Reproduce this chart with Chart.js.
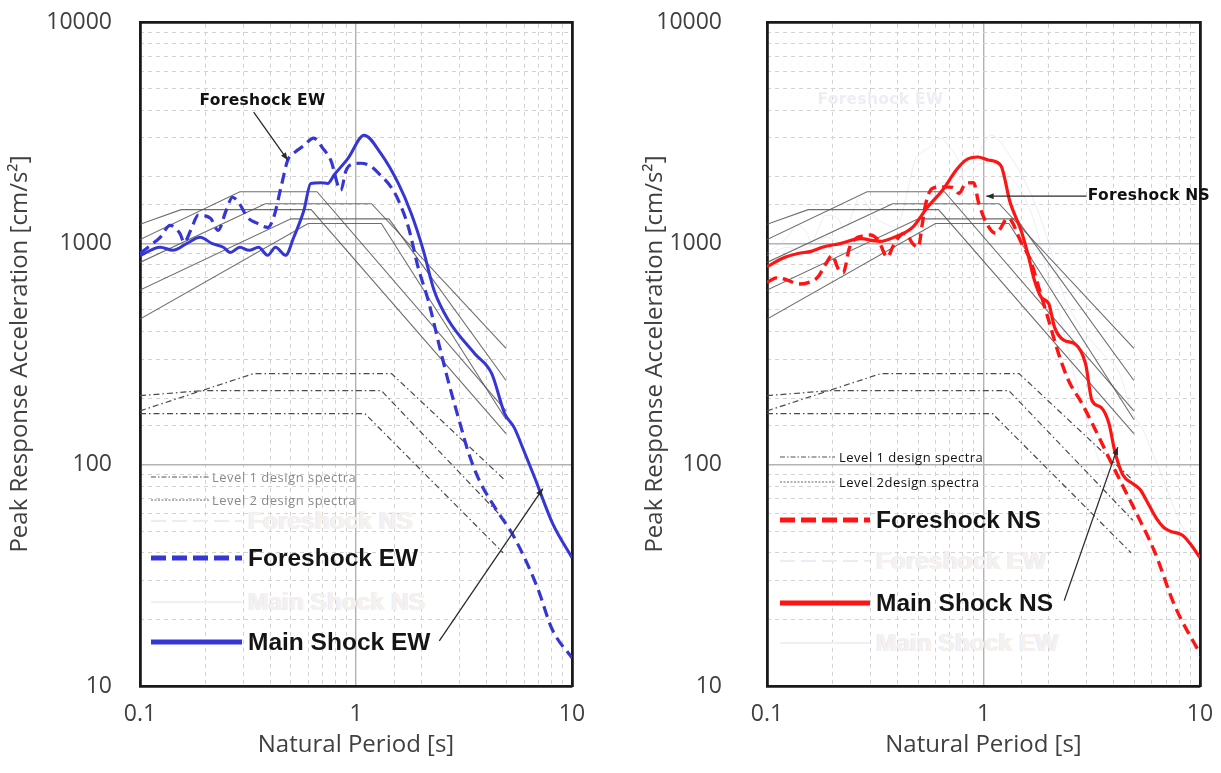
<!DOCTYPE html>
<html lang="en">
<head>
<meta charset="UTF-8">
<title>Response spectra — Foreshock / Main Shock</title>
<script src="https://cdn.jsdelivr.net/npm/chart.js@4.4.0/dist/chart.umd.min.js"></script>
<style>
  * { box-sizing: border-box; margin: 0; padding: 0; }
  body { background: #fff; width: 1221px; height: 773px; overflow: hidden; font-family: 'Open Sans', sans-serif; }
  #wrap { position: relative; width: 1221px; height: 773px; }
  canvas { position: absolute; top: 0; }
  .leg { position: absolute; display: flex; align-items: center; white-space: nowrap; height: 30px; }
  .leg svg { display: block; flex: none; }
  .leg span { display: block; }
  .small { font-size: 13px; letter-spacing: 0.5px; }
  .big { font-family: 'Liberation Sans', Arial, sans-serif; font-weight: bold; font-size: 24.5px; letter-spacing: 0; color: #151515; }
  .ghost { color: #f4f2f0; text-shadow: 1px 0 rgba(250, 205, 160, .3), -1px 0 rgba(160, 190, 250, .3); }
</style>
</head>
<body>
<div id="wrap">
  <canvas id="left" width="610" height="773" style="left:0"></canvas>
  <canvas id="right" width="611" height="773" style="left:610px"></canvas>
</div>
<script>
// axes
const xMin = 0.1, xMax = 10, yMin = 10, yMax = 10000;
const xTickLabels = ['0.1', '1', '10'];
const yTickLabels = ['10', '100', '1000', '10000'];

// left panel: EW components (period [s], acceleration [cm/s2])
const feEwT = [0.1, 0.112, 0.124, 0.138, 0.153, 0.16, 0.172, 0.186, 0.212, 0.23, 0.25, 0.268, 0.29, 0.314, 0.35, 0.39, 0.416, 0.45, 0.483, 0.515, 0.57, 0.637, 0.70, 0.764, 0.85, 0.9, 0.96, 1.05, 1.16, 1.3, 1.45, 1.57, 1.75, 1.94, 2.16, 2.48, 2.7, 3.07, 3.3, 3.7, 4.4, 5.4, 6.9, 8.1, 10];
const feEwA = [900, 980, 1065, 1205, 1110, 1010, 1150, 1340, 1297, 1145, 1400, 1615, 1500, 1312, 1230, 1180, 1312, 1800, 2375, 2555, 2750, 2985, 2700, 2375, 1738, 2138, 2280, 2300, 2240, 2030, 1800, 1567, 1180, 778, 552, 318, 230, 147, 115, 86, 64, 47, 28, 18, 13.4];
const msEwT = [0.1, 0.124, 0.142, 0.165, 0.19, 0.215, 0.243, 0.262, 0.29, 0.32, 0.354, 0.39, 0.424, 0.472, 0.515, 0.574, 0.617, 0.687, 0.74, 0.79, 0.92, 1.09, 1.3, 1.57, 1.8, 2.05, 2.3, 2.68, 3.54, 4.25, 4.88, 5.4, 6.0, 6.7, 8.15, 10];
const msEwA = [880, 960, 930, 1000, 1065, 1000, 960, 910, 960, 930, 960, 883, 960, 883, 1065, 1410, 1865, 1880, 1865, 2030, 2427, 3080, 2555, 1865, 1368, 930, 612, 449, 318, 258, 170, 147, 115, 88, 54, 38];

// right panel: NS components
const feNsT = [0.1, 0.112, 0.125, 0.14, 0.155, 0.172, 0.186, 0.2, 0.213, 0.225, 0.24, 0.26, 0.28, 0.3, 0.327, 0.36, 0.38, 0.41, 0.437, 0.47, 0.5, 0.52, 0.54, 0.58, 0.65, 0.72, 0.77, 0.83, 0.9, 0.95, 1.03, 1.14, 1.3, 1.5, 1.65, 1.8, 2.0, 2.22, 2.47, 2.85, 3.25, 3.95, 4.86, 6.2, 7.65, 10];
const feNsA = [667, 700, 680, 655, 665, 705, 800, 880, 770, 735, 950, 1060, 1080, 1090, 1030, 865, 960, 1080, 1110, 1000, 960, 1200, 1500, 1770, 1800, 1790, 1683, 1870, 1880, 1520, 1240, 1110, 1300, 1000, 838, 632, 449, 318, 240, 189, 147, 99, 66, 40, 23, 14];
const msNsT = [0.1, 0.121, 0.139, 0.16, 0.18, 0.22, 0.27, 0.33, 0.4, 0.47, 0.55, 0.65, 0.75, 0.83, 0.94, 1.05, 1.2, 1.33, 1.49, 1.6, 1.72, 1.85, 2.0, 2.13, 2.36, 2.64, 2.96, 3.17, 3.5, 3.8, 4.04, 4.4, 4.9, 5.3, 5.7, 6.3, 6.8, 7.3, 8.3, 9.0, 10];
const msNsA = [785, 865, 900, 920, 960, 1000, 1050, 1020, 1080, 1180, 1450, 1750, 2150, 2380, 2455, 2380, 2255, 1520, 1145, 902, 680, 570, 535, 417, 364, 352, 286, 195, 181, 153, 115, 90, 82, 77, 68, 57, 52, 50, 48, 44, 38];

// design spectra (corner points)
const lv2T = [[0.1, 0.155, 0.62, 4.95], [0.1, 0.29, 0.66, 4.95], [0.1, 0.38, 1.18, 4.95], [0.1, 0.5, 1.42, 4.95], [0.1, 0.6, 1.31, 4.95]];
const lv2A = [[1220, 1420, 1420, 138], [1040, 1710, 1710, 175], [820, 1510, 1510, 335], [615, 1290, 1290, 240], [455, 1230, 1230, 160]];
const lv1T = [[0.1, 0.195, 1.31, 4.9], [0.1, 0.336, 1.46, 4.9], [0.1, 1.1, 4.8]];
const lv1A = [[205, 216, 216, 56], [175, 258, 258, 85], [170, 170, 40]];

// notes: [period, acceleration] anchors
const notesLeft = {
  labels: [{ text: 'Foreshock EW', at: [0.369, 4400], align: 'center', color: '#111' }],
  arrows: [{ from: [0.336, 3918], to: [0.483, 2377] }, { from: [2.43, 16], to: [7.33, 78] }]
};
const notesRight = {
  labels: [{ text: 'Foreshock NS', at: [3.03, 1633], align: 'left', color: '#111' },
           { text: 'Foreshock EW', at: [0.334, 4430], align: 'center', color: '#ededf3' }],
  arrows: [{ from: [2.99, 1633], to: [1.03, 1633] }, { from: [2.36, 24.3], to: [4.17, 120] }]
};

const blue = '#3636d4', red = '#ff1414';
const majorC = '#b2b2b2', minorC = '#d2d2d2';

const isMajor = v => Math.abs(Math.log10(v) - Math.round(Math.log10(v))) < 1e-9;
const pts = (T, A) => T.map((t, i) => ({ x: t, y: A[i] }));

function curve(T, A, color, dashed, width) {
  return { data: pts(T, A), borderColor: color, borderWidth: width, borderDash: dashed ? [11, 6] : [],
           pointRadius: 0, fill: false, cubicInterpolationMode: 'monotone', xAxisID: 'x', yAxisID: 'y' };
}
function designLines() {
  const out = [];
  lv2T.forEach((T, i) => out.push({ data: pts(T, lv2A[i]), borderColor: 'rgba(85,85,85,0.85)', borderWidth: 1.1,
    pointRadius: 0, tension: 0, xAxisID: 'x', yAxisID: 'y' }));
  lv1T.forEach((T, i) => out.push({ data: pts(T, lv1A[i]), borderColor: '#4a4a4a', borderWidth: 1.2,
    borderDash: [6, 3, 1.5, 3], pointRadius: 0, tension: 0, xAxisID: 'x', yAxisID: 'y' }));
  return out;
}

// fixed box sizes; drop the label overhang Chart.js would add to the plot margins
function fixX(h) { return s => { s.height = h; s.paddingLeft = 10; s.paddingRight = 10; }; }
function fixY(w) { return s => { s.width = w; s.paddingTop = 10; s.paddingBottom = 10; }; }

function scales(yWidth, tickPad, titlePad) {
  const tickCol = c => c.tick && isMajor(c.tick.value);
  return {
    x: { type: 'logarithmic', position: 'bottom', min: xMin, max: xMax,
         afterFit: fixX(87),
         grid: { color: c => tickCol(c) ? majorC : 'rgba(0,0,0,0)', lineWidth: 1.4, drawTicks: false },
         border: { color: '#1a1a1a', width: 2.8 },
         ticks: { autoSkip: false, maxRotation: 0, padding: 15, color: '#404040', font: { size: 23 },
                  callback: v => xTickLabels.includes(String(v)) ? String(v) : '' },
         title: { display: true, text: 'Natural Period [s]', color: '#404040', font: { size: 24 }, padding: { top: 0, bottom: 13 } } },
    xm: { type: 'logarithmic', position: 'top', min: xMin, max: xMax,
          afterFit: fixX(0),
          grid: { color: c => (c.tick && !isMajor(c.tick.value)) ? minorC : 'rgba(0,0,0,0)', lineWidth: 1, drawTicks: false },
          border: { color: '#1a1a1a', width: 2.8, dash: [4, 4] },
          ticks: { display: false } },
    y: { type: 'logarithmic', position: 'left', min: yMin, max: yMax,
         afterFit: fixY(yWidth),
         grid: { color: c => tickCol(c) ? majorC : 'rgba(0,0,0,0)', lineWidth: 1.4, drawTicks: false },
         border: { color: '#1a1a1a', width: 2.8 },
         ticks: { autoSkip: false, padding: tickPad, color: '#404040', font: { size: 23 },
                  callback: v => yTickLabels.includes(String(v)) ? String(v) : '' },
         title: { display: true, text: 'Peak Response Acceleration [cm/s²]', color: '#404040', font: { size: 24 }, padding: { top: titlePad, bottom: 0 } } },
    ym: { type: 'logarithmic', position: 'right', min: yMin, max: yMax,
          afterFit: fixY(0),
          grid: { color: c => (c.tick && !isMajor(c.tick.value)) ? minorC : 'rgba(0,0,0,0)', lineWidth: 1, drawTicks: false },
          border: { color: '#1a1a1a', width: 2.8, dash: [4, 4] },
          ticks: { display: false } }
  };
}

const notesPlugin = {
  id: 'notes',
  afterDatasetsDraw(chart, args, opts) {
    const { ctx, scales: { x, y } } = chart;
    const px = p => [x.getPixelForValue(p[0]), y.getPixelForValue(p[1])];
    ctx.save();
    (opts.arrows || []).forEach(a => {
      const [x1, y1] = px(a.from), [x2, y2] = px(a.to);
      const ang = Math.atan2(y2 - y1, x2 - x1);
      ctx.strokeStyle = '#2a2a2a'; ctx.fillStyle = '#2a2a2a'; ctx.lineWidth = 1.3;
      ctx.beginPath(); ctx.moveTo(x1, y1); ctx.lineTo(x2, y2); ctx.stroke();
      ctx.beginPath();
      ctx.moveTo(x2, y2);
      ctx.lineTo(x2 - 8 * Math.cos(ang - 0.38), y2 - 8 * Math.sin(ang - 0.38));
      ctx.lineTo(x2 - 8 * Math.cos(ang + 0.38), y2 - 8 * Math.sin(ang + 0.38));
      ctx.closePath(); ctx.fill();
    });
    (opts.labels || []).forEach(l => {
      const [lx, ly] = px(l.at);
      ctx.font = "bold 15.5px 'DejaVu Sans', sans-serif";
      ctx.letterSpacing = '0.3px';
      ctx.textAlign = l.align; ctx.textBaseline = 'middle'; ctx.fillStyle = l.color;
      ctx.fillText(l.text, lx, ly);
    });
    ctx.restore();
  }
};

Chart.defaults.font.family = "'Open Sans', sans-serif";

function makeChart(id, datasets, sc, pad, notes) {
  return new Chart(document.getElementById(id), {
    type: 'line',
    data: { datasets },
    options: {
      responsive: false, animation: false, devicePixelRatio: 1,
      layout: { padding: pad },
      scales: sc,
      plugins: { legend: { display: false }, tooltip: { enabled: false }, notes },
      elements: { line: { borderCapStyle: 'butt' } }
    },
    plugins: [notesPlugin]
  });
}

makeChart('left', [
  curve(feEwT, feEwA, blue, true, 3.2),
  curve(msEwT, msEwA, blue, false, 3),
  ...designLines()
], scales(140, 28, 6), { left: 0, top: 22, right: 38, bottom: 0 }, notesLeft);

makeChart('right', [
  curve(feNsT, feNsA, red, true, 3.4),
  curve(msNsT, msNsA, red, false, 3.2),
  ...designLines(),
  curve(feEwT, feEwA, 'rgba(200,200,240,0.35)', false, 1),
  curve(msEwT, msEwA, 'rgba(200,200,240,0.35)', false, 1)
], scales(157, 45, 31), { left: 0, top: 22, right: 21, bottom: 0 }, notesRight);

// legends (inside the plot areas)
const legendLeft = [
  { text: 'Level 1 design spectra', kind: 'lv1', y: 477, size: 'small', color: '#8a8a8a' },
  { text: 'Level 2 design spectra', kind: 'lv2', y: 500, size: 'small', color: '#8a8a8a' },
  { text: 'Foreshock NS', kind: 'ghostDash', y: 521, size: 'big', ghost: true },
  { text: 'Foreshock EW', kind: 'dash', y: 558, size: 'big', color: blue },
  { text: 'Main Shock NS', kind: 'ghostSolid', y: 602, size: 'big', ghost: true },
  { text: 'Main Shock EW', kind: 'solid', y: 642, size: 'big', color: blue }
];
const legendRight = [
  { text: 'Level 1 design spectra', kind: 'lv1', y: 457, size: 'small', color: '#111' },
  { text: 'Level 2design spectra', kind: 'lv2', y: 482, size: 'small', color: '#111' },
  { text: 'Foreshock NS', kind: 'dash', y: 520, size: 'big', color: red },
  { text: 'Foreshock EW', kind: 'ghostDash', y: 561, size: 'big', ghost: true },
  { text: 'Main Shock NS', kind: 'solid', y: 603, size: 'big', color: red },
  { text: 'Main Shock EW', kind: 'ghostSolid', y: 643, size: 'big', ghost: true }
];

function sample(kind, color, w) {
  const h = 10, m = h / 2;
  const line = {
    lv1: `stroke="#555" stroke-width="1.2" stroke-dasharray="5 2 1.5 2"`,
    lv2: `stroke="#666" stroke-width="1" stroke-dasharray="2 1.5"`,
    dash: `stroke="${color}" stroke-width="5" stroke-dasharray="15 6"`,
    solid: `stroke="${color}" stroke-width="5"`,
    ghostDash: `stroke="#ececf6" stroke-width="2" stroke-dasharray="15 6"`,
    ghostSolid: `stroke="#efeff7" stroke-width="2"`
  }[kind];
  return `<svg width="${w}" height="${h}"><line x1="0" y1="${m}" x2="${w}" y2="${m}" ${line}/></svg>`;
}

function addLegend(items, x0, smallW, bigW, smallGap, bigGap) {
  const wrap = document.getElementById('wrap');
  items.forEach(it => {
    const d = document.createElement('div');
    d.className = 'leg';
    const small = it.size === 'small';
    d.style.left = x0 + 'px';
    d.style.top = (it.y - 15) + 'px';
    d.innerHTML = sample(it.kind, it.color, small ? smallW : bigW) +
      `<span class="${small ? 'small' : 'big'}${it.ghost ? ' ghost' : ''}" style="margin-left:${small ? smallGap : bigGap}px;${small ? 'color:' + it.color : ''}">${it.text}</span>`;
    wrap.appendChild(d);
  });
}
addLegend(legendLeft, 151, 58, 91, 3, 6);
addLegend(legendRight, 780, 55, 90, 4, 6);
</script>
</body>
</html>
